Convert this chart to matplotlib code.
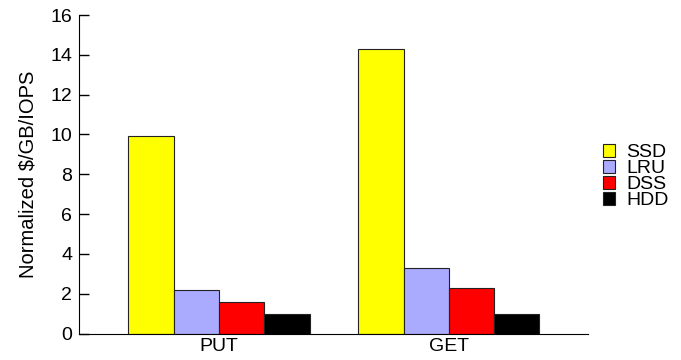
import numpy as np
import matplotlib
matplotlib.use('Agg')
import matplotlib.pyplot as plt

plt.rcParams['font.family'] = ['Liberation Sans', 'DejaVu Sans']

groups = ['PUT', 'GET']
series = ['SSD', 'LRU', 'DSS', 'HDD']
ssd = [9.9, 14.3]
lru = [2.2, 3.3]
dss = [1.6, 2.3]
hdd = [1.0, 1.0]
colors = ['#ffff00', '#aaaaff', '#ff0000', '#000000']

values = [ssd, lru, dss, hdd]

fig = plt.figure(figsize=(6.81, 3.6), dpi=100)
ax = fig.add_axes([0.116, 0.0736, 0.747, 0.8847])

x = np.arange(len(groups))
width = 0.197
for i, (name, vals) in enumerate(zip(series, values)):
    ax.bar(x + (i - 1.5) * width, vals, width, color=colors[i],
           edgecolor='#222222', linewidth=0.8, label=name)

ax.set_xlim(-0.609, 1.604)
ax.set_ylim(0, 16)
ax.set_yticks(np.arange(0, 17, 2))
ax.set_xticks(x)
ax.set_xticklabels(groups)
ax.tick_params(axis='y', direction='in', length=7, width=1, labelsize=14, pad=5)
ax.tick_params(axis='x', length=0, labelsize=14, pad=3)
ax.set_ylabel('Normalized $/GB/IOPS', fontsize=14.5, labelpad=9)
for s in ['top', 'right']:
    ax.spines[s].set_visible(False)

leg = fig.legend(loc='center left', bbox_to_anchor=(0.871, 0.509), frameon=False,
                 fontsize=14, handlelength=0.62, handleheight=0.62,
                 handletextpad=0.6, labelspacing=-0.06, borderpad=0)

fig.savefig('out.png', dpi=100)
